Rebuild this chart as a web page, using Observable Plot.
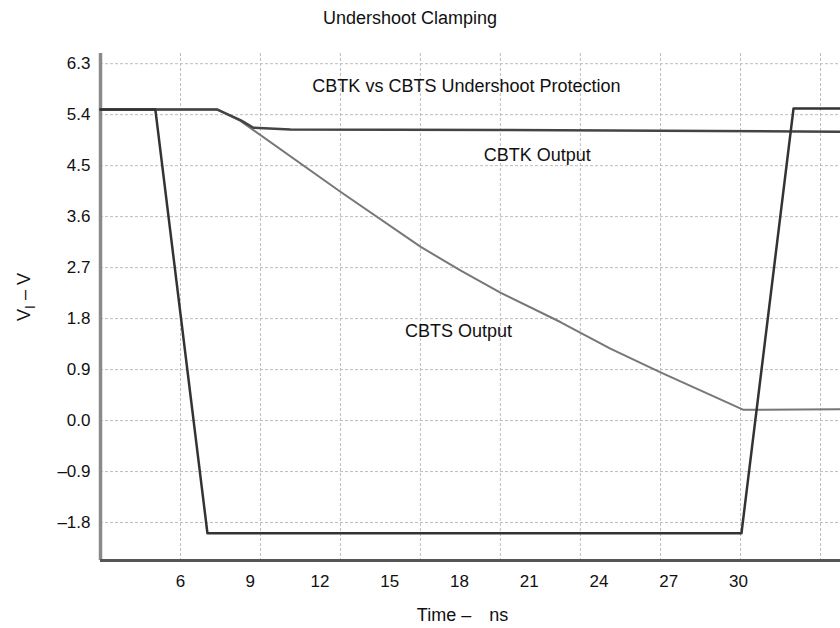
<!DOCTYPE html>
<html><head><meta charset="utf-8">
<script src="https://cdn.jsdelivr.net/npm/d3@7"></script>
<script src="https://cdn.jsdelivr.net/npm/@observablehq/plot@0.6"></script>
<style>
body{margin:0;background:#fff;font-family:"Liberation Sans",Arial,sans-serif;}
#title{width:820px;height:36px;line-height:36px;text-align:center;font-size:18px;color:#111;}
#chart svg{overflow:visible;}
</style></head><body>
<div id="title">Undershoot Clamping</div>
<div id="chart"></div>
<script>
// Input pulse (ns, V)
const inputTime = [2.56, 4.92, 7.16, 30.13, 32.37, 34.39];
const inputV    = [5.49, 5.49, -1.99, -1.99, 5.51, 5.51];
// CBTK output
const cbtkTime = [2.56, 7.59, 8.60, 9.14, 10.73, 19.76, 34.39];
const cbtkV    = [5.49, 5.49, 5.30, 5.17, 5.14, 5.13, 5.10];
// CBTS output
const cbtsTime = [2.56, 7.59, 8.58, 12.88, 16.32, 18.04, 19.76, 22.34, 24.49, 26.65, 30.22, 34.39];
const cbtsV    = [5.49, 5.49, 5.29, 4.04, 3.07, 2.65, 2.26, 1.74, 1.27, 0.85, 0.19, 0.20];

const xTicks = [6, 9, 12, 15, 18, 21, 24, 27, 30];
const yTicks = [6.3, 5.4, 4.5, 3.6, 2.7, 1.8, 0.9, 0.0, -0.9, -1.8];
const yTickLabels = ["6.3", "5.4", "4.5", "3.6", "2.7", "1.8", "0.9", "0.0", "–0.9", "–1.8"];
const gridX = [6, 9.44, 12.88, 16.32, 19.76, 23.2, 26.65, 30.09, 33.53];

const noteText = ["CBTK vs CBTS Undershoot Protection", "CBTK Output", "CBTS Output"];
const noteTime = [18.30, 21.35, 17.96];
const noteV    = [5.91, 4.69, 1.57];

const xDomain = [2.56, 34.39];
const yDomain = [-2.47, 6.48];

const toRows = (t, v) => t.map((d, i) => ({t: d, v: v[i]}));
const notes = noteText.map((s, i) => ({s, t: noteTime[i], v: noteV[i]}));

const plot = Plot.plot({
  width: 840,
  height: 592,
  marginLeft: 100,
  marginRight: 0,
  marginTop: 17,
  marginBottom: 68,
  style: {fontFamily: "'Liberation Sans', Arial, sans-serif", fontSize: "17px", color: "#111", background: "#fff"},
  x: {domain: xDomain},
  y: {domain: yDomain},
  marks: [
    Plot.ruleY(yTicks, {stroke: "#bdbdbd", strokeWidth: 1, strokeDasharray: "3,2"}),
    Plot.ruleX(gridX, {stroke: "#bdbdbd", strokeWidth: 1, strokeDasharray: "3,2"}),
    Plot.ruleX([xDomain[0]], {stroke: "#8a8a8a", strokeWidth: 3.5}),
    Plot.ruleY([yDomain[0]], {stroke: "#555", strokeWidth: 3}),
    Plot.line(toRows(cbtsTime, cbtsV), {x: "t", y: "v", stroke: "#777", strokeWidth: 2}),
    Plot.line(toRows(cbtkTime, cbtkV), {x: "t", y: "v", stroke: "#444", strokeWidth: 2.5}),
    Plot.line(toRows(inputTime, inputV), {x: "t", y: "v", stroke: "#333", strokeWidth: 2.5}),
    Plot.text(notes, {x: "t", y: "v", text: "s", fontSize: 18, fill: "#111"}),
    Plot.axisX({ticks: xTicks, tickSize: 0, tickPadding: 14, label: null, fontSize: 17}),
    Plot.axisY({ticks: yTicks, tickSize: 0, tickPadding: 10, label: null, fontSize: 17,
      tickFormat: d => yTickLabels[yTicks.indexOf(d)]}),
    Plot.text(["Time –\u2003ns"], {frameAnchor: "bottom", dy: 60, dx: -8, fontSize: 18, fill: "#111"})
  ]
});
document.getElementById("chart").appendChild(plot);

// y-axis label with subscript
const svg = d3.select(plot);
const yl = svg.append("text")
  .attr("transform", "translate(30,261) rotate(-90)")
  .attr("text-anchor", "middle")
  .attr("font-size", 18)
  .attr("fill", "#111");
yl.append("tspan").text("V");
yl.append("tspan").attr("dy", 5).attr("font-size", 14).text("I");
yl.append("tspan").attr("dy", -5).text(" – V");
</script>
</body></html>
